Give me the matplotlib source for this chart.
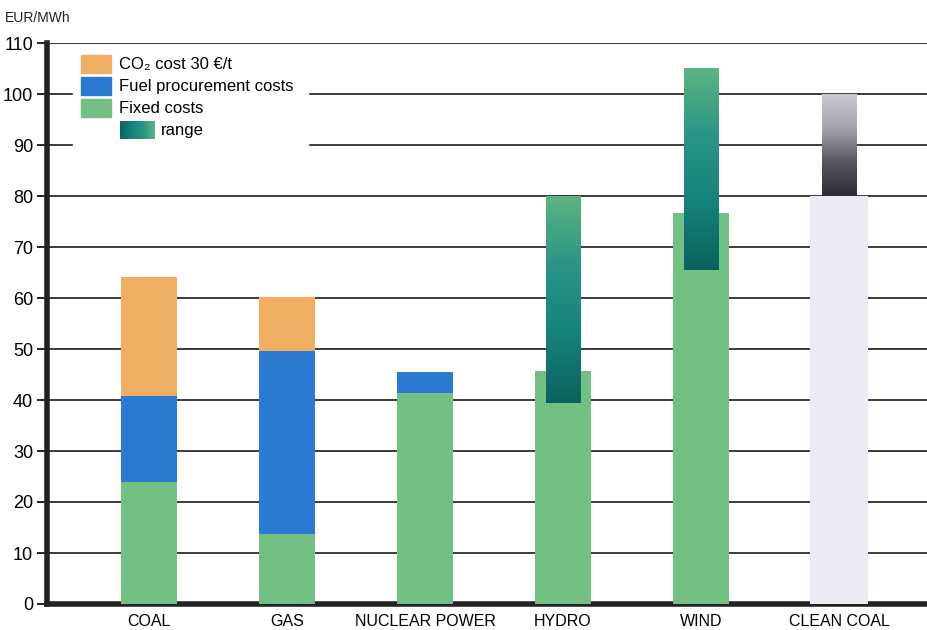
import numpy as np
import matplotlib.pyplot as plt
from matplotlib.patches import Rectangle
from matplotlib.colors import LinearSegmentedColormap

plt.rcParams['font.family'] = ['Liberation Sans', 'DejaVu Sans']

# datos
categories = ['COAL', 'GAS', 'NUCLEAR POWER', 'HYDRO', 'WIND', 'CLEAN COAL']
fixed = [24, 13.7, 41.4, 45.7, 76.7, 0]
fuel = [16.8, 35.9, 4.1, 0, 0, 0]
co2 = [23.3, 10.6, 0, 0, 0, 0]
clean_base = [0, 0, 0, 0, 0, 80]
range_low = [np.nan, np.nan, np.nan, 39.5, 65.5, 80]
range_high = [np.nan, np.nan, np.nan, 80, 105, 100]
yticks = [0, 10, 20, 30, 40, 50, 60, 70, 80, 90, 100, 110]

c_co2 = '#f0ae62'
c_fuel = '#2b79d2'
c_fixed = '#72c183'
teal = LinearSegmentedColormap.from_list('teal', ['#0b625b', '#15817d', '#2a9585', '#5cb482'])
grey = LinearSegmentedColormap.from_list('grey', ['#2c2e34', '#55575f', '#a3a4ae', '#c9c9d2'])

fig = plt.figure(figsize=(9.28, 6.3), dpi=100)
ax = fig.add_axes([47 / 928, 26 / 630, 881 / 928, 561 / 630])

x = np.arange(len(categories))
w = 0.40

# lineas horizontales
for t in yticks[1:]:
    ax.axhline(t, color='#1a1a1a', lw=1.2, zorder=1)

ax.bar(x, fixed, w, color=c_fixed, zorder=3)
ax.bar(x, fuel, w, bottom=fixed, color=c_fuel, zorder=3)
ax.bar(x, co2, w, bottom=np.array(fixed) + np.array(fuel), color=c_co2, zorder=3)
ax.bar(x, clean_base, 0.42, color='#eceaf2', zorder=3)

# rangos con degradado
grad = np.linspace(0, 1, 256).reshape(-1, 1)
for i in range(len(categories)):
    lo, hi = range_low[i], range_high[i]
    if np.isnan(lo):
        continue
    rw = 0.25
    cmap = grey if categories[i] == 'CLEAN COAL' else teal
    ax.imshow(grad, cmap=cmap, origin='lower', aspect='auto',
              extent=(x[i] - rw / 2, x[i] + rw / 2, lo, hi), zorder=4)

ax.set_xlim(-0.739, 5.645)
ax.set_ylim(0, 110)
ax.set_yticks(yticks)
ax.set_yticklabels([str(t) for t in yticks], fontsize=13)
ax.set_xticks(x)
ax.set_xticklabels(categories, fontsize=11.5)
ax.tick_params(axis='y', length=7, width=1.2, pad=3)
ax.tick_params(axis='x', length=0, pad=7)
for s in ['top', 'right']:
    ax.spines[s].set_visible(False)
ax.spines['left'].set_linewidth(4)
ax.spines['bottom'].set_linewidth(4)
ax.spines['left'].set_color('#222222')
ax.spines['bottom'].set_color('#222222')

fig.text(5 / 928, 1 - 18 / 630, 'EUR/MWh', fontsize=10, va='center', color='#222222')

# leyenda hecha a mano
def ax_xy(px, py):
    return (px - 47) / 881, (604 - py) / 561

bx, by = ax_xy(73, 155)
ax.add_patch(Rectangle((bx, by), (308 - 73) / 881, (155 - 50) / 561,
                       transform=ax.transAxes, color='white', zorder=5))
items = [(c_co2, 'CO₂ cost 30 €/t', 55), (c_fuel, 'Fuel procurement costs', 77),
         (c_fixed, 'Fixed costs', 99)]
for col, lab, py in items:
    sx, sy = ax_xy(81, py + 18)
    ax.add_patch(Rectangle((sx, sy), 30 / 881, 18 / 561, transform=ax.transAxes,
                           color=col, zorder=6))
    tx, ty = ax_xy(119, py + 9)
    ax.text(tx, ty, lab, transform=ax.transAxes, fontsize=12, va='center', zorder=7)

gx0, gy0 = ax_xy(120, 139)
gx1, gy1 = ax_xy(155, 121)
ax.imshow(np.linspace(0, 1, 256).reshape(1, -1), cmap=teal, aspect='auto',
          extent=(gx0, gx1, gy0, gy1), transform=ax.transAxes, zorder=6)
tx, ty = ax_xy(161, 130)
ax.text(tx, ty, 'range', transform=ax.transAxes, fontsize=12, va='center', zorder=7)

ax.set_xlim(-0.739, 5.645)
ax.set_ylim(0, 110)

fig.savefig('out.png', dpi=100)
